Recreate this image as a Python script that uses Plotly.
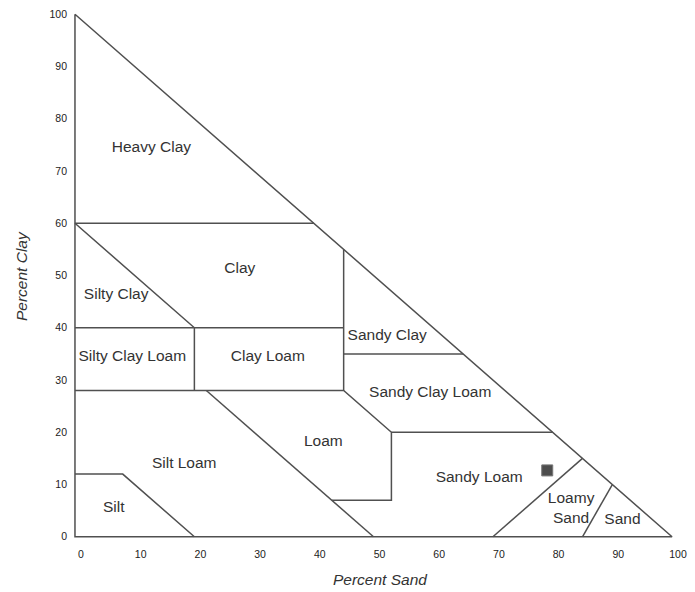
import plotly.graph_objects as go

# Texture class boundaries as (percent sand, percent clay) polylines
outline_sand = [0, 0, 100, 0]
outline_clay = [100, 0, 0, 100]

boundary_lines = [
    ([0, 40], [60, 60]),                      # heavy clay / clay
    ([0, 20, 20], [60, 40, 28]),              # silty clay / clay, clay loam left edge
    ([0, 45], [40, 40]),                      # clay / silty clay loam, clay loam
    ([45, 45], [55, 28]),                     # sandy clay left edge
    ([45, 65], [35, 35]),                     # sandy clay / sandy clay loam
    ([0, 45, 53, 53, 43], [28, 28, 20, 7, 7]),  # loam outline
    ([22, 50], [28, 0]),                      # silt loam / loam
    ([53, 80], [20, 20]),                     # sandy clay loam / sandy loam
    ([0, 8, 20], [12, 12, 0]),                # silt
    ([70, 85], [0, 15]),                      # loamy sand
    ([85, 90], [0, 10]),                      # sand
]

class_names = ["Heavy Clay", "Clay", "Silty Clay", "Silty Clay Loam", "Clay Loam",
               "Sandy Clay", "Sandy Clay Loam", "Loam", "Silt Loam", "Silt",
               "Sandy Loam", "Loamy<br>Sand", "Sand"]
label_sand = [12.8, 27.6, 6.9, 9.6, 32.3, 52.3, 59.5, 41.6, 18.3, 6.5, 67.7, 83.1, 91.7]
label_clay = [74.4, 51.2, 46.2, 34.3, 34.3, 38.4, 27.4, 18.1, 13.9, 5.5, 11.3, 5.3, 3.2]

# Measured soil sample
sample_sand = [79.1]
sample_clay = [12.7]

tick_vals = [0, 10, 20, 30, 40, 50, 60, 70, 80, 90, 100]

line_color = "#505050"
text_color = "#333333"
font_family = "Liberation Sans, Arial, sans-serif"

fig = go.Figure()

xs, ys = list(outline_sand), list(outline_clay)
for bx, by in boundary_lines:
    xs += [None] + bx
    ys += [None] + by

fig.add_trace(go.Scatter(
    x=xs, y=ys, mode="lines",
    line=dict(color=line_color, width=1.5),
    hoverinfo="skip", showlegend=False,
))

fig.add_trace(go.Scatter(
    x=label_sand, y=label_clay, mode="text", text=class_names,
    textfont=dict(family=font_family, size=15.5, color=text_color),
    textposition="middle center", showlegend=False, hoverinfo="skip",
))

fig.add_trace(go.Scatter(
    x=sample_sand, y=sample_clay, mode="markers",
    marker=dict(symbol="square", size=11, color="#4d4d4d",
                line=dict(color="#777777", width=1)),
    showlegend=False,
))

axis_common = dict(
    showgrid=False, zeroline=False, showline=False, ticks="",
    tickvals=tick_vals, range=[-1, 101],
    tickfont=dict(family=font_family, size=10.5, color="#222222"),
)

fig.update_xaxes(**axis_common, ticklabelshift=6, ticklabelstandoff=4)
fig.update_yaxes(**axis_common, ticklabelstandoff=1)

fig.add_annotation(
    text="<i>Percent Sand</i>", xref="paper", yref="paper",
    x=0.511, y=-0.071, xanchor="center", yanchor="middle", showarrow=False,
    font=dict(family=font_family, size=15.5, color=text_color),
)
fig.add_annotation(
    text="<i>Percent Clay</i>", xref="paper", yref="paper",
    x=-0.078, y=0.5, xanchor="center", yanchor="middle", showarrow=False,
    textangle=-90,
    font=dict(family=font_family, size=15.5, color=text_color),
)

fig.update_layout(
    width=695, height=592,
    margin=dict(l=69, r=13, t=8, b=50),
    plot_bgcolor="white", paper_bgcolor="white",
)

fig.write_html("out.html")
